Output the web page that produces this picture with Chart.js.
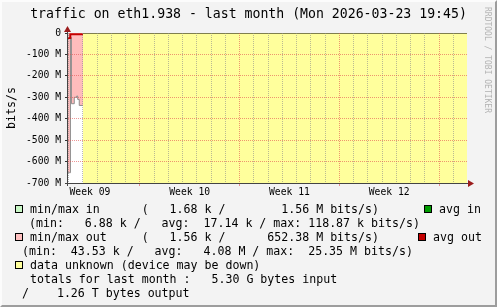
<!DOCTYPE html>
<html>
<head>
<meta charset="utf-8">
<script src="https://cdn.jsdelivr.net/npm/chart.js"></script>
<style>
  html, body { margin: 0; padding: 0; background: #f3f3f3; }
  #frame {
    position: relative; width: 497px; height: 307px; overflow: hidden;
    background: #f3f3f3; box-sizing: border-box;
    border-top: 2px solid #fcfcfc; border-left: 2px solid #fcfcfc;
    border-right: 2px solid #9d9d9d; border-bottom: 2px solid #9d9d9d;
    font-family: "DejaVu Sans Mono", monospace; color: #000;
  }
  #chart { position: absolute; left: -2px; top: -2px; }
  .t { position: absolute; white-space: pre; font-size: 11.6px; line-height: 14px; }
  .box { position: absolute; width: 8px; height: 8px; box-sizing: border-box; border: 1px solid #000; }
</style>
</head>
<body>
<div id="frame">
  <canvas id="chart" width="497" height="307"></canvas>
  <div class="t" id="title" style="left:-2px;top:4px;width:497px;text-align:center;font-size:13.2px;line-height:16px;"></div>
  <div class="t" style="left:-21.5px;top:98.5px;width:60px;text-align:center;transform:rotate(-90deg);">bits/s</div>
  <div class="t" style="left:425px;top:53px;width:120px;text-align:center;transform:rotate(90deg);font-size:8px;line-height:10px;color:#b4b4b4;">RRDTOOL / TOBI OETIKER</div>
  <div id="legend"></div>
</div>
<script>
// x values are days counted from the Monday that starts week 09
const xMin = 1.96;
const xMax = 29.96;
const weekStarts = [7, 14, 21, 28];
const weekLabels = ["Week 09", "Week 10", "Week 11", "Week 12"];
const weekLabelAt = [3.5, 10.5, 17.5, 24.5];

// y values in M bits/s, output is drawn below zero
const yMin = -700;
const yMax = 0;

// min/max out band (pink) and its edge (grey)
const outDays = [1.96, 2.05, 2.13, 2.20, 2.40, 2.57, 2.64, 2.75, 3.01];
const outMax = [-652, -652, -330, -330, -300, -294, -310, -338, -338];
const outEdge = [-652, -652, -20, -330, -300, -294, -310, -338, -338];

// avg out (dark red)
const avgOutDays = [1.96, 2.12, 3.01];
const avgOut = [-23, -6, -6];

// data unknown (yellow)
const unknownDays = [3.01, 29.96];
const unknownTop = [0, 0];

const legendRows = [
  { box: "#c8f7c5", x: 30, text: "min/max in      (   1.68 k /        1.56 M bits/s)" },
  { x: 29, text: "(min:   6.88 k /   avg:  17.14 k / max: 118.87 k bits/s)" },
  { box: "#ffc0c0", x: 30, text: "min/max out     (   1.56 k /      652.38 M bits/s)" },
  { x: 22, text: "(min:  43.53 k /   avg:   4.08 M / max:  25.35 M bits/s)" },
  { box: "#ffff9c", x: 30, text: "data unknown (device may be down)" },
  { x: 30, text: "totals for last month :   5.30 G bytes input" },
  { x: 22, text: "/    1.26 T bytes output" }
];
const legendRight = [
  { row: 0, box: "#009c00", x: 424, text: "avg in" },
  { row: 2, box: "#c40000", x: 418, text: "avg out" }
];

document.getElementById("title").textContent =
  "traffic on eth1.938 - last month (Mon 2026-03-23 19:45)";

const legend = document.getElementById("legend");
legendRows.forEach((r, i) => {
  const top = 200 + i * 14;
  if (r.box) {
    legend.insertAdjacentHTML("beforeend",
      `<div class="box" style="left:13px;top:${top + 3}px;background:${r.box}"></div>`);
  }
  const d = document.createElement("div");
  d.className = "t";
  d.style.left = (r.x - 2) + "px";
  d.style.top = top + "px";
  d.textContent = r.text;
  legend.appendChild(d);
});
legendRight.forEach((r) => {
  const top = 200 + r.row * 14;
  legend.insertAdjacentHTML("beforeend",
    `<div class="box" style="left:${r.x - 2}px;top:${top + 3}px;background:${r.box}"></div>`);
  const d = document.createElement("div");
  d.className = "t";
  d.style.left = (r.x + 13) + "px";
  d.style.top = top + "px";
  d.textContent = r.text;
  legend.appendChild(d);
});

const toPoints = (xs, ys) => xs.map((x, i) => ({ x: x, y: ys[i] }));

const minorGrid = "rgba(140,140,140,0.6)";
const majorGrid = "rgba(225,80,80,0.6)";

const plotBack = {
  id: "plotBack",
  beforeDraw(chart) {
    const a = chart.chartArea, ctx = chart.ctx;
    ctx.save();
    ctx.fillStyle = "#ffffff";
    ctx.fillRect(a.left, a.top, a.right - a.left, a.bottom - a.top);
    ctx.restore();
  },
  afterDraw(chart) {
    const a = chart.chartArea, ctx = chart.ctx;
    ctx.save();
    ctx.strokeStyle = "#444";
    ctx.lineWidth = 1;
    ctx.beginPath();
    ctx.moveTo(a.left - 0.5, a.top - 2);
    ctx.lineTo(a.left - 0.5, a.bottom + 3);
    ctx.moveTo(a.left - 3, a.bottom + 0.5);
    ctx.lineTo(a.right + 4, a.bottom + 0.5);
    ctx.stroke();
    ctx.fillStyle = "#9b1c1c";
    ctx.beginPath();
    ctx.moveTo(a.left - 0.5, a.top - 7);
    ctx.lineTo(a.left - 4, a.top - 1);
    ctx.lineTo(a.left + 3, a.top - 1);
    ctx.closePath();
    ctx.fill();
    ctx.beginPath();
    ctx.moveTo(a.right + 7, a.bottom + 0.5);
    ctx.lineTo(a.right + 1, a.bottom - 3);
    ctx.lineTo(a.right + 1, a.bottom + 4);
    ctx.closePath();
    ctx.fill();
    ctx.restore();
  }
};

Chart.defaults.font.family = "DejaVu Sans Mono";
Chart.defaults.color = "#000";

new Chart(document.getElementById("chart"), {
  type: "line",
  data: {
    datasets: [
      {
        label: "avg out",
        data: toPoints(avgOutDays, avgOut),
        borderColor: "#c40000",
        borderWidth: 2,
        stepped: true,
        pointRadius: 0,
        fill: false
      },
      {
        label: "data unknown",
        data: toPoints(unknownDays, unknownTop),
        borderColor: "#000",
        borderWidth: 1,
        backgroundColor: "#ffff9c",
        pointRadius: 0,
        fill: "start"
      },
      {
        label: "max out edge",
        data: toPoints(outDays, outEdge),
        borderColor: "#8e8e8e",
        borderWidth: 1,
        stepped: true,
        pointRadius: 0,
        fill: false
      },
      {
        label: "min/max out",
        data: toPoints(outDays, outMax),
        borderWidth: 0,
        borderColor: "rgba(0,0,0,0)",
        backgroundColor: "#ffbcbc",
        stepped: true,
        pointRadius: 0,
        fill: "origin"
      }
    ]
  },
  options: {
    responsive: false,
    animation: false,
    events: [],
    layout: { padding: { left: 0, top: 33, right: 30, bottom: 0 } },
    plugins: { legend: { display: false }, tooltip: { enabled: false }, title: { display: false } },
    scales: {
      x: {
        type: "linear",
        min: xMin,
        max: xMax,
        afterFit: (s) => { s.height = 124; },
        afterBuildTicks: (s) => {
          const t = [];
          for (let d = Math.ceil(xMin); d <= Math.floor(xMax); d++) t.push(d);
          weekLabelAt.forEach((v) => t.push(v));
          t.sort((a, b) => a - b);
          s.ticks = t.map((v) => ({ value: v }));
        },
        ticks: {
          autoSkip: false,
          maxRotation: 0,
          padding: 1,
          font: { size: 9.7 },
          callback: (v) => {
            const i = weekLabelAt.indexOf(v);
            return i >= 0 ? weekLabels[i] : "";
          }
        },
        grid: {
          z: 1,
          lineWidth: 1,
          tickLength: 3,
          color: (c) => {
            const v = c.tick ? c.tick.value : 0;
            if (weekLabelAt.includes(v)) return "rgba(0,0,0,0)";
            return weekStarts.includes(v) ? majorGrid : minorGrid;
          },
          tickColor: (c) => {
            const v = c.tick ? c.tick.value : 0;
            return weekStarts.includes(v) ? majorGrid : "rgba(0,0,0,0)";
          }
        },
        border: { display: false, dash: [1, 1] }
      },
      y: {
        min: yMin,
        max: yMax,
        afterFit: (s) => { s.width = 68; },
        ticks: {
          stepSize: 50,
          padding: 4,
          font: { size: 9.7 },
          callback: (v) => (v % 100 === 0 ? (v === 0 ? "0" : v + " M") : "")
        },
        grid: {
          z: 1,
          lineWidth: 1,
          tickLength: 3,
          color: (c) => {
            const v = c.tick ? c.tick.value : 0;
            if (v === yMin || v === yMax) return "rgba(0,0,0,0)";
            return v % 100 === 0 ? majorGrid : minorGrid;
          },
          tickColor: (c) => {
            const v = c.tick ? c.tick.value : 0;
            return v % 100 === 0 ? "#333" : "rgba(0,0,0,0)";
          }
        },
        border: { display: false, dash: [1, 1] }
      }
    }
  },
  plugins: [plotBack]
});
</script>
</body>
</html>
